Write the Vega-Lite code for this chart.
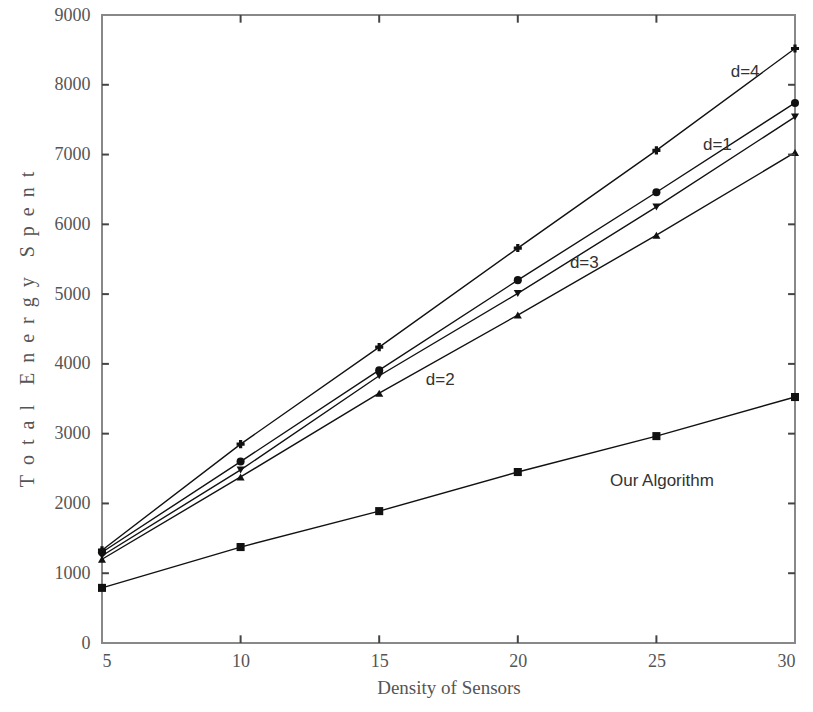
{
  "$schema": "https://vega.github.io/schema/vega-lite/v6.json",
  "autosize": {"type": "none"},
  "width": 693,
  "height": 628,
  "padding": {"left": 102, "top": 15, "right": 18, "bottom": 69},
  "background": "white",
  "config": {
    "view": {"stroke": "#888888", "strokeWidth": 2},
    "axis": {
      "labelFont": "Liberation Serif",
      "titleFont": "Liberation Serif",
      "labelColor": "#555555",
      "titleColor": "#555555",
      "labelFontSize": 18,
      "titleFontSize": 19,
      "titleFontWeight": "normal",
      "domain": false,
      "grid": false,
      "ticks": false
    }
  },
  "datasets": {
    "series": [
      {"density": 5, "energy": 1330, "series": "d=4"},
      {"density": 10, "energy": 2850, "series": "d=4"},
      {"density": 15, "energy": 4240, "series": "d=4"},
      {"density": 20, "energy": 5660, "series": "d=4"},
      {"density": 25, "energy": 7060, "series": "d=4"},
      {"density": 30, "energy": 8520, "series": "d=4"},
      {"density": 5, "energy": 1300, "series": "d=1"},
      {"density": 10, "energy": 2600, "series": "d=1"},
      {"density": 15, "energy": 3910, "series": "d=1"},
      {"density": 20, "energy": 5200, "series": "d=1"},
      {"density": 25, "energy": 6460, "series": "d=1"},
      {"density": 30, "energy": 7740, "series": "d=1"},
      {"density": 5, "energy": 1250, "series": "d=3"},
      {"density": 10, "energy": 2480, "series": "d=3"},
      {"density": 15, "energy": 3830, "series": "d=3"},
      {"density": 20, "energy": 5010, "series": "d=3"},
      {"density": 25, "energy": 6250, "series": "d=3"},
      {"density": 30, "energy": 7540, "series": "d=3"},
      {"density": 5, "energy": 1200, "series": "d=2"},
      {"density": 10, "energy": 2380, "series": "d=2"},
      {"density": 15, "energy": 3580, "series": "d=2"},
      {"density": 20, "energy": 4700, "series": "d=2"},
      {"density": 25, "energy": 5845, "series": "d=2"},
      {"density": 30, "energy": 7030, "series": "d=2"},
      {"density": 5, "energy": 790, "series": "Our Algorithm"},
      {"density": 10, "energy": 1375, "series": "Our Algorithm"},
      {"density": 15, "energy": 1890, "series": "Our Algorithm"},
      {"density": 20, "energy": 2450, "series": "Our Algorithm"},
      {"density": 25, "energy": 2965, "series": "Our Algorithm"},
      {"density": 30, "energy": 3525, "series": "Our Algorithm"}
    ],
    "labels": [
      {"density": 28.2, "energy": 8180, "text": "d=4"},
      {"density": 27.2, "energy": 7130, "text": "d=1"},
      {"density": 22.4, "energy": 5440, "text": "d=3"},
      {"density": 17.2, "energy": 3770, "text": "d=2"},
      {"density": 25.2, "energy": 2320, "text": "Our Algorithm"}
    ],
    "yticks": [
      {"v": 1000}, {"v": 2000}, {"v": 3000}, {"v": 4000},
      {"v": 5000}, {"v": 6000}, {"v": 7000}, {"v": 8000}
    ],
    "xticks": [
      {"v": 10}, {"v": 15}, {"v": 20}, {"v": 25}
    ]
  },
  "layer": [
    {
      "data": {"name": "series"},
      "mark": {"type": "line", "color": "#111111", "strokeWidth": 1.4},
      "encoding": {
        "x": {
          "field": "density", "type": "quantitative",
          "scale": {"domain": [5, 30], "nice": false, "zero": false},
          "axis": {"values": [5, 10, 15, 20, 25, 30], "format": "d", "title": "Density of Sensors", "labelPadding": 9, "titlePadding": 8}
        },
        "y": {
          "field": "energy", "type": "quantitative",
          "scale": {"domain": [0, 9000], "nice": false},
          "axis": {"values": [0, 1000, 2000, 3000, 4000, 5000, 6000, 7000, 8000, 9000], "format": "d", "title": "T\u00a0 o\u00a0 t\u00a0 a\u00a0 l\u00a0\u00a0\u00a0 E\u00a0 n\u00a0 e\u00a0 r\u00a0 g\u00a0 y\u00a0\u00a0\u00a0 S\u00a0 p\u00a0 e\u00a0 n\u00a0 t", "titleFontSize": 20, "labelPadding": 12, "titlePadding": 17}
        },
        "detail": {"field": "series"}
      }
    },
    {
      "data": {"name": "series"},
      "mark": {"type": "point", "filled": true, "color": "#111111", "opacity": 1, "size": 65},
      "encoding": {
        "x": {"field": "density", "type": "quantitative", "axis": null},
        "y": {"field": "energy", "type": "quantitative", "axis": null},
        "shape": {
          "field": "series", "type": "nominal", "legend": null,
          "scale": {
            "domain": ["d=4", "d=1", "d=3", "d=2", "Our Algorithm"],
            "range": ["cross", "circle", "triangle-down", "triangle-up", "square"]
          }
        }
      }
    },
    {
      "data": {"name": "labels"},
      "mark": {"type": "text", "font": "Liberation Sans", "fontSize": 17, "color": "#333333", "align": "center", "baseline": "middle"},
      "encoding": {
        "x": {"field": "density", "type": "quantitative", "axis": null},
        "y": {"field": "energy", "type": "quantitative", "axis": null},
        "text": {"field": "text"}
      }
    },
    {
      "data": {"name": "yticks"},
      "mark": {"type": "rule", "color": "#444444", "strokeWidth": 2},
      "encoding": {
        "y": {"field": "v", "type": "quantitative", "axis": null},
        "x": {"datum": 5, "type": "quantitative", "axis": null},
        "x2": {"datum": 5.25}
      }
    },
    {
      "data": {"name": "yticks"},
      "mark": {"type": "rule", "color": "#444444", "strokeWidth": 2},
      "encoding": {
        "y": {"field": "v", "type": "quantitative", "axis": null},
        "x": {"datum": 29.75, "type": "quantitative", "axis": null},
        "x2": {"datum": 30}
      }
    },
    {
      "data": {"name": "xticks"},
      "mark": {"type": "rule", "color": "#444444", "strokeWidth": 2},
      "encoding": {
        "x": {"field": "v", "type": "quantitative", "axis": null},
        "y": {"datum": 0, "type": "quantitative", "axis": null},
        "y2": {"datum": 110}
      }
    },
    {
      "data": {"name": "xticks"},
      "mark": {"type": "rule", "color": "#444444", "strokeWidth": 2},
      "encoding": {
        "x": {"field": "v", "type": "quantitative", "axis": null},
        "y": {"datum": 8890, "type": "quantitative", "axis": null},
        "y2": {"datum": 9000}
      }
    }
  ],
  "resolve": {"axis": {"x": "independent", "y": "independent"}}
}
